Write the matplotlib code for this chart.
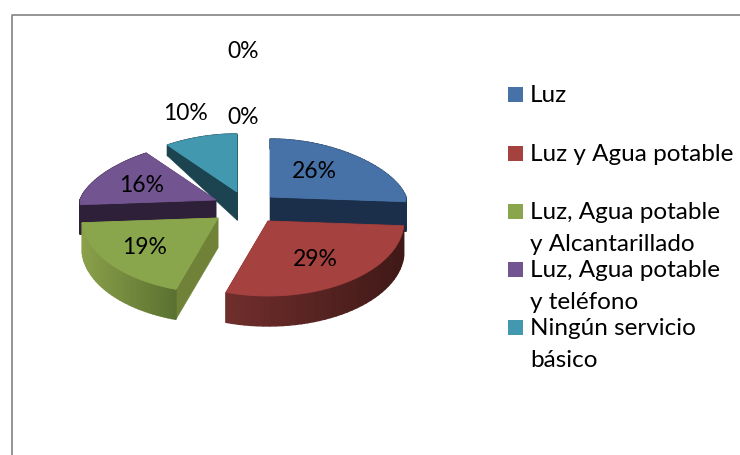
import numpy as np
import matplotlib
matplotlib.use("Agg")
import matplotlib.pyplot as plt
from matplotlib.patches import Polygon, Rectangle

plt.rcParams['font.family'] = ['Lato', 'DejaVu Sans']

categories = ["Luz", "Luz y Agua potable", "Luz, Agua potable\ny Alcantarillado",
              "Luz, Agua potable\ny teléfono", "Ningún servicio\nbásico"]
values = [26, 29, 19, 16, 10]
colors = ["#4672A8", "#A5413F", "#8AA64C", "#725490", "#4198AF"]
cut_colors = ["#1B2F4A", "#4A1C1A", "#6F8238", "#2E2038", "#1B4450"]
side_left = ["#1B2F4A", "#702E2C", "#8AA04A", "#2E2038", "#1B4450"]
side_right = ["#1B2F4A", "#3F1917", "#5A7030", "#2E2038", "#1B4450"]
apex = [(270, 197), (268, 221), (218, 218), (216, 200), (237, 192)]
draw_order = [4, 0, 3, 2, 1]

extra_labels = ["0%", "0%"]
extra_pos = [(243, 117), (243, 52)]
label_pos = [(314, 171), (315, 259), (145, 248), (142, 185), (185, 113)]
legend_y = [87, 146, 204, 262, 320]

RX = 136
RY_BACK, RY_FRONT = 58, 75


def depth(y):
    return np.clip(10 + (y - 143) * 0.37, 10, 30)


def rim(a, c):
    a = np.asarray(a)
    ry = np.where(np.sin(a) >= 0, RY_BACK, RY_FRONT)
    rx = RX * (1 - 0.16 * np.clip(np.sin(a), 0, 1))
    return c[0] + rx * np.cos(a), c[1] - ry * np.sin(a)


fig = plt.figure(figsize=(7.4, 4.55), dpi=100)
ax = fig.add_axes([0, 0, 1, 1])
ax.set_xlim(0, 740)
ax.set_ylim(455, 0)
ax.axis("off")

ax.plot([12, 12, 740], [455, 15, 15], color="#8C8C8C", lw=1.3)

edges = 90 - np.cumsum([0] + values) * 3.6


def mix(c1, c2, t):
    a, b = np.array(matplotlib.colors.to_rgb(c1)), np.array(matplotlib.colors.to_rgb(c2))
    return a + (b - a) * t


for i in draw_order:
    c = apex[i]
    a0, a1 = np.radians(edges[i]), np.radians(edges[i + 1])
    th = np.linspace(a0, a1, 40)
    xs, ys = rim(th, c)
    # radial cut faces
    for px, py in [(xs[0], ys[0]), (xs[-1], ys[-1])]:
        face = [c, (px, py), (px, py + depth(py)), (c[0], c[1] + depth(c[1]))]
        ax.add_patch(Polygon(face, closed=True, fc=cut_colors[i], ec=cut_colors[i], lw=0.4))
    # outer side, drawn as narrow strips shaded along the rim
    xmin, xmax = xs.min(), xs.max()
    for k in range(len(th) - 1):
        t = (0.5 * (xs[k] + xs[k + 1]) - xmin) / max(xmax - xmin, 1)
        col = mix(side_left[i], side_right[i], t)
        quad = [(xs[k], ys[k]), (xs[k + 1], ys[k + 1]),
                (xs[k + 1], ys[k + 1] + depth(ys[k + 1])), (xs[k], ys[k] + depth(ys[k]))]
        ax.add_patch(Polygon(quad, closed=True, fc=col, ec=col, lw=1.0))
    # top face
    top = np.vstack([[c], np.column_stack([xs, ys])])
    ax.add_patch(Polygon(top, closed=True, fc=colors[i], ec=colors[i], lw=0.6))

FS_LABEL = 16.5
FS_LEGEND = 17.5
for v, (x, y) in zip(values, label_pos):
    ax.text(x, y, f"{v}%", ha="center", va="center", fontsize=FS_LABEL, color="black")
for s, (x, y) in zip(extra_labels, extra_pos):
    ax.text(x, y, s, ha="center", va="center", fontsize=FS_LABEL, color="black")

for name, col, y in zip(categories, colors, legend_y):
    ax.add_patch(Rectangle((508, y), 15, 15, fc=col, ec="none"))
    ax.text(530, y - 2, name, ha="left", va="top", fontsize=FS_LEGEND, color="black", linespacing=1.65)

fig.savefig("out.png", dpi=100)
